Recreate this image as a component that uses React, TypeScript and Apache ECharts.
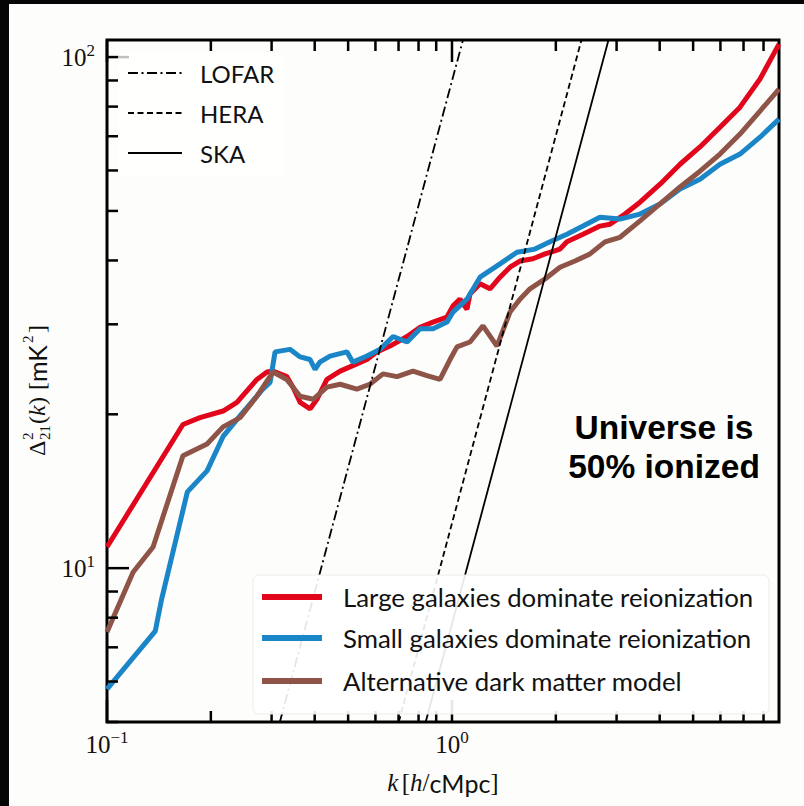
import { useEffect, useRef } from 'react';
import * as echarts from 'echarts';

// Axis ranges (log scales)
const K_MIN = 0.1;
const K_MAX = 8.87;
const P_MIN = 5;
const P_MAX = 108;

// Large galaxies dominate reionization
const largeK = [0.100, 0.166, 0.186, 0.217, 0.238, 0.272, 0.291, 0.303, 0.332, 0.346, 0.363, 0.388, 0.406, 0.434, 0.474, 0.516, 0.567, 0.606, 0.661, 0.741, 0.808, 0.881, 0.967, 1.007, 1.055, 1.105, 1.128, 1.206, 1.289, 1.378, 1.473, 1.574, 1.717, 1.861, 1.924, 2.056, 2.154, 2.398, 2.685, 2.871, 3.173, 3.508, 4.009, 4.582, 5.234, 5.982, 6.837, 7.813, 8.870];
const largeP = [11.0, 19.1, 19.7, 20.3, 21.1, 23.4, 24.2, 24.3, 23.7, 22.6, 21.1, 20.5, 21.4, 23.4, 24.3, 24.9, 25.6, 26.5, 27.2, 28.4, 29.6, 30.3, 31.0, 32.6, 33.6, 32.1, 34.4, 36.0, 35.2, 37.1, 38.8, 39.9, 40.3, 41.2, 41.5, 42.1, 43.5, 45.0, 46.7, 47.1, 49.3, 52.0, 56.4, 61.7, 66.7, 72.9, 79.8, 90.6, 106.0];

// Small galaxies dominate reionization
const smallK = [0.100, 0.138, 0.144, 0.171, 0.195, 0.217, 0.248, 0.283, 0.297, 0.307, 0.339, 0.363, 0.388, 0.401, 0.414, 0.443, 0.496, 0.516, 0.567, 0.619, 0.675, 0.741, 0.808, 0.881, 0.967, 1.007, 1.105, 1.206, 1.378, 1.543, 1.740, 1.924, 2.154, 2.398, 2.685, 3.069, 3.508, 4.009, 4.582, 5.234, 5.982, 6.837, 7.813, 8.870];
const smallP = [5.80, 7.53, 8.70, 14.1, 15.5, 18.1, 20.2, 22.4, 23.1, 26.5, 26.8, 25.9, 25.6, 24.5, 25.3, 26.0, 26.5, 25.3, 26.0, 26.8, 28.4, 27.7, 29.4, 29.4, 30.3, 31.7, 33.6, 37.1, 39.4, 41.5, 42.1, 43.5, 45.0, 46.7, 48.6, 48.2, 49.3, 51.6, 55.2, 57.7, 61.7, 64.6, 69.7, 75.6];

// Alternative dark matter model
const altK = [0.100, 0.119, 0.136, 0.166, 0.195, 0.217, 0.243, 0.272, 0.303, 0.332, 0.363, 0.396, 0.434, 0.474, 0.530, 0.578, 0.631, 0.693, 0.771, 0.846, 0.923, 0.987, 1.034, 1.128, 1.230, 1.350, 1.473, 1.574, 1.683, 1.861, 2.056, 2.273, 2.512, 2.777, 3.069, 3.508, 4.009, 4.582, 5.234, 5.982, 6.837, 7.813, 8.870];
const altP = [7.50, 9.82, 11.0, 16.6, 17.5, 18.9, 19.7, 21.7, 24.2, 23.4, 21.7, 21.4, 22.6, 22.9, 22.4, 22.9, 24.0, 23.7, 24.3, 23.8, 23.4, 25.6, 27.1, 27.7, 29.8, 27.2, 31.7, 33.6, 35.2, 36.8, 38.8, 39.9, 41.2, 43.5, 44.4, 47.8, 51.6, 55.7, 59.8, 64.6, 70.7, 78.4, 86.6];

// Instrument sensitivity limits (straight lines in log-log)
const lofarK = [0.317, 1.076];
const lofarP = [5, 108];
const heraK = [0.701, 2.373];
const heraP = [5, 108];
const skaK = [0.839, 2.842];
const skaP = [5, 108];

// Tick positions
const xMajorTicks = [0.1, 1];
const xMinorTicks = [0.2, 0.3, 0.4, 0.5, 0.6, 0.7, 0.8, 0.9, 2, 3, 4, 5, 6, 7, 8];
const yMajorTicks = [10, 100];
const yMinorTicks = [5, 6, 7, 8, 9, 20, 30, 40, 50, 60, 70, 80, 90];

const curveNames = [
  'Large galaxies dominate reionization',
  'Small galaxies dominate reionization',
  'Alternative dark matter model',
];
const instrumentNames = ['LOFAR', 'HERA', 'SKA'];

const RED = '#e2061c';
const BLUE = '#1a86c8';
const BROWN = '#8f5448';
const MAJOR_LEN = 22;
const MINOR_LEN = 11;

const zip = (ks: number[], ps: number[]) => ks.map((k, i) => [k, ps[i]]);

const powerLabel = (v: number) => {
  const e = Math.log10(v);
  const r = Math.round(e);
  if (Math.abs(e - r) > 1e-6) return '';
  return `{b|10}{s|${r < 0 ? '\u2212' + -r : r}}`;
};

const tickRich = {
  b: { fontFamily: 'Liberation Serif', fontSize: 25, color: '#111' },
  s: { fontFamily: 'Liberation Serif', fontSize: 17, color: '#111', padding: [0, 0, 14, 0] },
};

const SERIF = 'Liberation Serif';
const SANS = 'Lato';

function buildOption() {
  const xTickData = [
    ...xMajorTicks.map((k) => [k, P_MIN, MAJOR_LEN]),
    ...xMinorTicks.map((k) => [k, P_MIN, MINOR_LEN]),
  ];
  const yTickData = [
    ...yMajorTicks.map((p) => [K_MIN, p, MAJOR_LEN]),
    ...yMinorTicks.map((p) => [K_MIN, p, MINOR_LEN]),
  ];
  const tickStyle = { stroke: '#000', lineWidth: 2.5 };

  const curve = (name: string, data: number[][], color: string) => ({
    name,
    type: 'line',
    data,
    symbol: 'none',
    lineStyle: { color, width: 5 },
    itemStyle: { color },
    z: 3,
  });
  const instrument = (name: string, data: number[][], type: any) => ({
    name,
    type: 'line',
    data,
    symbol: 'none',
    lineStyle: { color: '#000', width: 1.8, type },
    itemStyle: { color: '#000' },
    z: 4,
  });

  const legendText = (y: number, x: number, text: string, size: number) => ({
    type: 'text',
    x,
    y,
    z: 60,
    style: {
      text,
      fill: '#111',
      fontFamily: SANS,
      fontSize: size,
      align: 'left',
      verticalAlign: 'middle',
      textAlign: 'left',
      textVerticalAlign: 'middle',
    },
  });

  const ySmall = { fontFamily: SERIF, fontSize: 15, fill: '#111', align: 'left', verticalAlign: 'middle', textAlign: 'left', textVerticalAlign: 'middle' };
  const yBig = { fontFamily: SERIF, fontSize: 24, fill: '#111', align: 'left', verticalAlign: 'middle', textAlign: 'left', textVerticalAlign: 'middle' };

  return {
    animation: false,
    backgroundColor: '#fdfdfb',
    grid: {
      left: 107,
      top: 40,
      width: 672,
      height: 682,
      show: true,
      borderColor: '#000',
      borderWidth: 3,
      backgroundColor: 'transparent',
    },
    xAxis: {
      type: 'log',
      logBase: 10,
      min: K_MIN,
      max: K_MAX,
      axisLine: { show: false },
      axisTick: { show: false },
      splitLine: { show: false },
      axisLabel: { formatter: powerLabel, rich: tickRich, margin: 7 },
      name: '{i|k} {r|[}{i|h}{r|/}{s|cMpc}{r|]}',
      nameLocation: 'middle',
      nameGap: 48,
      nameTextStyle: {
        rich: {
          i: { fontFamily: SERIF, fontStyle: 'italic', fontSize: 25, color: '#111' },
          r: { fontFamily: SERIF, fontSize: 25, color: '#111' },
          s: { fontFamily: SANS, fontSize: 25, color: '#111' },
        },
      },
    },
    yAxis: {
      type: 'log',
      logBase: 10,
      min: P_MIN,
      max: P_MAX,
      axisLine: { show: false },
      axisTick: { show: false },
      splitLine: { show: false },
      axisLabel: { formatter: powerLabel, rich: tickRich, margin: 12 },
    },
    series: [
      curve(curveNames[0], zip(largeK, largeP), RED),
      curve(curveNames[1], zip(smallK, smallP), BLUE),
      curve(curveNames[2], zip(altK, altP), BROWN),
      instrument(instrumentNames[0], zip(lofarK, lofarP), [10, 3.5, 2, 3.5]),
      instrument(instrumentNames[1], zip(heraK, heraP), [6, 3.5]),
      instrument(instrumentNames[2], zip(skaK, skaP), 'solid'),
      {
        type: 'custom',
        data: xTickData,
        z: 5,
        silent: true,
        renderItem: (params: any, api: any) => {
          const cs = params.coordSys;
          const len = api.value(2);
          const px = api.coord([api.value(0), P_MIN])[0];
          const bottom = cs.y + cs.height;
          return {
            type: 'group',
            children: [
              { type: 'line', shape: { x1: px, y1: bottom, x2: px, y2: bottom - len }, style: tickStyle },
              { type: 'line', shape: { x1: px, y1: cs.y, x2: px, y2: cs.y + len }, style: tickStyle },
            ],
          };
        },
      },
      {
        type: 'custom',
        data: yTickData,
        z: 5,
        silent: true,
        renderItem: (params: any, api: any) => {
          const cs = params.coordSys;
          const len = api.value(2);
          const py = api.coord([K_MIN, api.value(1)])[1];
          return {
            type: 'line',
            shape: { x1: cs.x, y1: py, x2: cs.x + len, y2: py },
            style: tickStyle,
          };
        },
      },
    ],
    graphic: [
      // frame strips
      { type: 'rect', z: 200, shape: { x: 0, y: 0, width: 9, height: 806 }, style: { fill: '#050505' } },
      { type: 'rect', z: 200, shape: { x: 0, y: 0, width: 804, height: 4 }, style: { fill: '#050505' } },

      // instrument legend
      { type: 'rect', z: 50, shape: { x: 118, y: 53, width: 166, height: 123, r: 4 }, style: { fill: 'rgba(255,255,255,0.75)' } },
      { type: 'line', z: 60, shape: { x1: 128, y1: 73, x2: 182, y2: 73 }, style: { stroke: '#000', lineWidth: 1.8, lineDash: [10, 3.5, 2, 3.5] } },
      { type: 'line', z: 60, shape: { x1: 128, y1: 113, x2: 182, y2: 113 }, style: { stroke: '#000', lineWidth: 1.8, lineDash: [6, 3.5] } },
      { type: 'line', z: 60, shape: { x1: 128, y1: 153, x2: 182, y2: 153 }, style: { stroke: '#000', lineWidth: 1.8 } },
      legendText(73, 200, instrumentNames[0], 24),
      legendText(113, 200, instrumentNames[1], 24),
      legendText(153, 200, instrumentNames[2], 24),

      // model legend
      { type: 'rect', z: 50, shape: { x: 253, y: 575, width: 516, height: 139, r: 6 }, style: { fill: 'rgba(255,255,255,0.9)', stroke: '#ececec', lineWidth: 1 } },
      { type: 'line', z: 60, shape: { x1: 262, y1: 597, x2: 322, y2: 597 }, style: { stroke: RED, lineWidth: 6 } },
      { type: 'line', z: 60, shape: { x1: 262, y1: 638, x2: 322, y2: 638 }, style: { stroke: BLUE, lineWidth: 6 } },
      { type: 'line', z: 60, shape: { x1: 262, y1: 681, x2: 322, y2: 681 }, style: { stroke: BROWN, lineWidth: 6 } },
      legendText(597, 343, curveNames[0], 25.8),
      legendText(638, 343, curveNames[1], 25.8),
      legendText(681, 343, curveNames[2], 25.8),

      // annotation
      {
        type: 'text',
        z: 60,
        x: 664,
        y: 447,
        style: {
          text: 'Universe is\n50% ionized',
          fill: '#000',
          fontFamily: 'Liberation Sans',
          fontWeight: 'bold',
          fontSize: 33.5,
          lineHeight: 39,
          align: 'center',
          verticalAlign: 'middle',
          textAlign: 'center',
          textVerticalAlign: 'middle',
        },
      },

      // y-axis title, read bottom to top
      {
        type: 'group',
        x: 37,
        y: 387,
        rotation: Math.PI / 2,
        z: 60,
        children: [
          { type: 'text', x: -69, y: 0, style: { ...yBig, text: '\u0394' } },
          { type: 'text', x: -53, y: -9, style: { ...ySmall, text: '2' } },
          { type: 'text', x: -53, y: 8, style: { ...ySmall, text: '21' } },
          { type: 'text', x: -37, y: 0, style: { ...yBig, text: '(' } },
          { type: 'text', x: -29, y: 0, style: { ...yBig, fontStyle: 'italic', text: 'k' } },
          { type: 'text', x: -18, y: 0, style: { ...yBig, text: ')' } },
          { type: 'text', x: -3, y: 0, style: { ...yBig, text: '[' } },
          { type: 'text', x: 5, y: 0, style: { ...yBig, fontFamily: SANS, fontSize: 25, text: 'mK' } },
          { type: 'text', x: 44, y: -9, style: { ...ySmall, text: '2' } },
          { type: 'text', x: 54, y: 0, style: { ...yBig, text: ']' } },
        ],
      },
    ],
  };
}

export default function App() {
  const ref = useRef<HTMLDivElement>(null);
  useEffect(() => {
    const chart = echarts.init(ref.current!, null, { renderer: 'svg' });
    chart.setOption(buildOption() as any);
    return () => chart.dispose();
  }, []);
  return (
    <div
      ref={ref}
      style={{ position: 'absolute', left: 0, top: 0, width: 804, height: 806 }}
    />
  );
}
